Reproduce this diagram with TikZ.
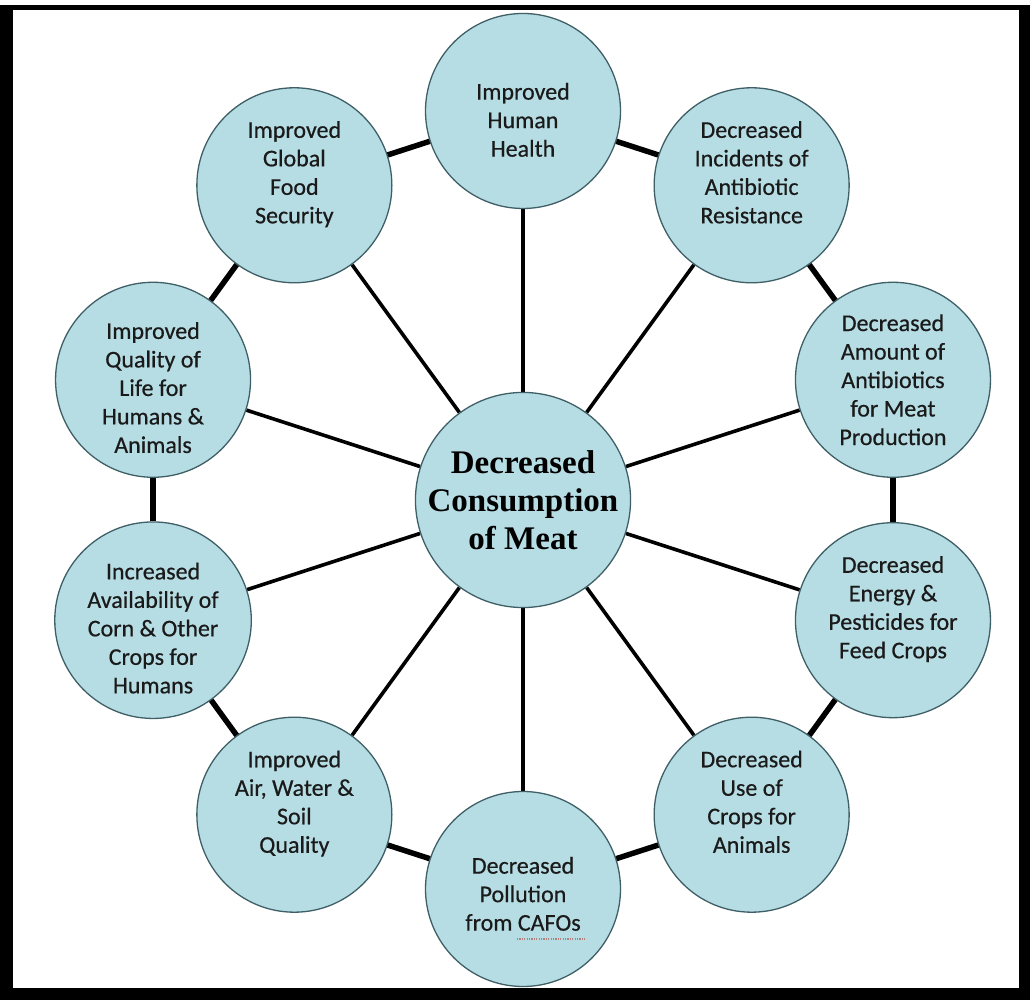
\documentclass[tikz,border=0pt]{standalone}
\usepackage{fontspec}
\setmainfont{Carlito}
\newfontfamily\bubblefont[FakeBold=0.5]{Carlito}
\newfontfamily\centerfont{Liberation Serif}
\usetikzlibrary{calc,backgrounds}
\definecolor{spellred}{HTML}{B08080}
\definecolor{bubble}{HTML}{B7DDE4}
\definecolor{rim}{HTML}{3F5F66}
\definecolor{txt}{HTML}{1A1A1A}
\tikzset{
  bubblenode/.style={circle, draw=rim, line width=1.3pt, fill=bubble,
    minimum size=195pt, inner sep=0pt, align=center, text=txt,
    font=\bubblefont\fontsize{24}{28.5}\selectfont},
  hubnode/.style={bubblenode, text=black,
    font=\centerfont\bfseries\fontsize{33}{38}\selectfont},
  spoke/.style={line width=3.6pt, black},
  ring/.style={line width=5.5pt, black},
  squiggle/.style={spellred, line width=1.2pt, dash pattern=on 1.2pt off 1.2pt}
}
\begin{document}
\begin{tikzpicture}[x=1pt,y=1pt]
\useasboundingbox (0,0) rectangle (1030,1000);
\coordinate (o) at (523,500);
% nodes
\node[hubnode] (c) at (o) {Decreased\\Consumption\\of Meat};
\node[bubblenode] (n1) at ($(o)+(90:389)$) {\strut\\[-14pt]Improved\\Human\\Health};
\node[bubblenode] (n2) at ($(o)+(54:389)$) {Decreased\\Incidents of\\Antibiotic\\Resistance\\[-11pt]\strut};
\node[bubblenode] (n3) at ($(o)+(18:389)$) {Decreased\\Amount of\\Antibiotics\\for Meat\\Production};
\node[bubblenode] (n4) at ($(o)+(-18:389)$) {Decreased\\Energy \&\\Pesticides for\\Feed Crops\\[-11pt]\strut};
\node[bubblenode] (n5) at ($(o)+(-54:389)$) {Decreased\\Use of\\Crops for\\Animals\\[-11pt]\strut};
\node[bubblenode] (n6) at ($(o)+(-90:389)$) {\strut\\[-22pt]Decreased\\Pollution\\from CAFOs};
\node[bubblenode] (n7) at ($(o)+(-126:389)$) {Improved\\Air, Water \&\\Soil\\Quality\\[-11pt]\strut};
\node[bubblenode] (n8) at ($(o)+(-162:389)$) {\strut\\[-16pt]Increased\\Availability of\\Corn \& Other\\Crops for\\Humans};
\node[bubblenode] (n9) at ($(o)+(162:389)$) {\strut\\[-16pt]Improved\\Quality of\\Life for\\Humans \&\\Animals};
\node[bubblenode] (n10) at ($(o)+(126:389)$) {Improved\\Global\\Food\\Security\\[-11pt]\strut};
% spell-check underline under CAFOs
\coordinate (sq1) at ($(n6.center)+(-6,-50)$);
\coordinate (sq2) at ($(n6.center)+(62,-50)$);
\draw[squiggle] (sq1) -- (sq2);
% frame and spokes behind the bubbles
\begin{scope}[on background layer]
\fill[black] (0,0) rectangle (1030,995);
\fill[white] (13,12) rectangle (1019,990);
\foreach \i in {1,...,10}{\draw[spoke] (c) -- (n\i);}
\end{scope}
% ring connectors
\draw[ring] (n1) -- (n2);
\draw[ring] (n2) -- (n3);
\draw[ring] (n3) -- (n4);
\draw[ring] (n4) -- (n5);
\draw[ring] (n5) -- (n6);
\draw[ring] (n6) -- (n7);
\draw[ring] (n7) -- (n8);
\draw[ring] (n8) -- (n9);
\draw[ring] (n9) -- (n10);
\draw[ring] (n10) -- (n1);
\end{tikzpicture}
\end{document}
